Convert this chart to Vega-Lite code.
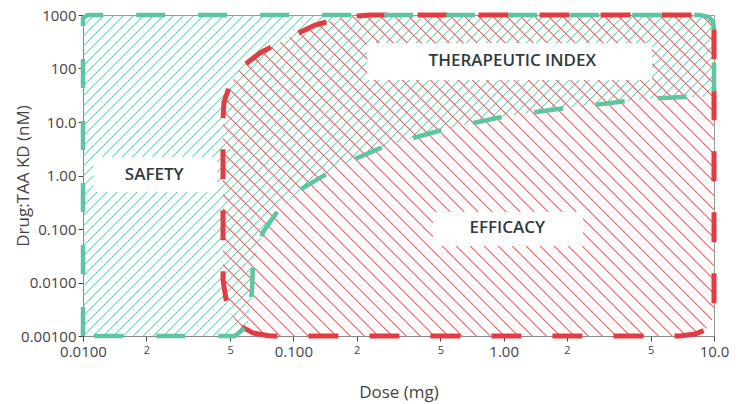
{"$schema":"https://vega.github.io/schema/vega-lite/v6.json","width":631,"height":321,"autosize":{"type":"none"},"padding":{"left":83,"top":15,"right":31,"bottom":68},"background":"white","config":{"font":"Open Sans","view":{"stroke":"#9a9a9a","strokeWidth":1}},
"datasets":{
"green_area":[{"x":0.01,"y":0.001,"y2":1000},{"x":0.0528,"y":0.001,"y2":1000},{"x":0.0609,"y":0.0016,"y2":1000},{"x":0.0636,"y":0.00724,"y2":1000},{"x":0.0643,"y":0.0231,"y2":1000},{"x":0.0718,"y":0.0879,"y2":1000},{"x":0.0864,"y":0.247,"y2":1000},{"x":0.111,"y":0.584,"y2":1000},{"x":0.146,"y":1.11,"y2":1000},{"x":0.201,"y":2.12,"y2":1000},{"x":0.267,"y":3.41,"y2":1000},{"x":0.371,"y":5.02,"y2":1000},{"x":0.509,"y":7.09,"y2":1000},{"x":0.715,"y":9.58,"y2":1000},{"x":0.982,"y":12.4,"y2":1000},{"x":1.38,"y":15.1,"y2":1000},{"x":1.89,"y":17.9,"y2":1000},{"x":2.66,"y":20.8,"y2":1000},{"x":3.69,"y":24.2,"y2":1000},{"x":5.13,"y":27.5,"y2":1000},{"x":7.12,"y":29.3,"y2":1000},{"x":8.58,"y":29.3,"y2":1000},{"x":9.46,"y":29.3,"y2":917},{"x":9.89,"y":29.3,"y2":740},{"x":10,"y":29.3,"y2":525}],
"red_area":[{"x":0.0463,"y":0.0111,"y2":10.9},{"x":0.0468,"y":0.0082,"y2":23.6},{"x":0.0479,"y":0.00471,"y2":30.6},{"x":0.05,"y":0.00269,"y2":49.2},{"x":0.0546,"y":0.00172,"y2":86},{"x":0.0558,"y":0.00154,"y2":93.8},{"x":0.0609,"y":0.00128,"y2":132},{"x":0.0643,"y":0.00114,"y2":155},{"x":0.0694,"y":0.00108,"y2":195},{"x":0.0774,"y":0.001,"y2":246},{"x":0.0943,"y":0.001,"y2":372},{"x":0.127,"y":0.001,"y2":650},{"x":0.176,"y":0.001,"y2":917},{"x":0.2315,"y":0.001,"y2":1000},{"x":6.89,"y":0.001,"y2":1000},{"x":8.12,"y":0.00109,"y2":1000},{"x":8.58,"y":0.00119,"y2":1000},{"x":9.06,"y":0.00129,"y2":938},{"x":9.57,"y":0.0016,"y2":879},{"x":10,"y":0.00247,"y2":571}],
"green_line":[{"i":0,"x":0.01,"y":0.001},{"i":1,"x":0.01,"y":870},{"i":2,"x":0.0105,"y":1000},{"i":3,"x":8.58,"y":1000},{"i":4,"x":9.46,"y":917},{"i":5,"x":9.89,"y":740},{"i":6,"x":10,"y":525},{"i":7,"x":10,"y":29.3},{"i":8,"x":7.12,"y":29.3},{"i":9,"x":5.13,"y":27.5},{"i":10,"x":3.69,"y":24.2},{"i":11,"x":2.66,"y":20.8},{"i":12,"x":1.89,"y":17.9},{"i":13,"x":1.38,"y":15.1},{"i":14,"x":0.982,"y":12.4},{"i":15,"x":0.715,"y":9.58},{"i":16,"x":0.509,"y":7.09},{"i":17,"x":0.371,"y":5.02},{"i":18,"x":0.267,"y":3.41},{"i":19,"x":0.201,"y":2.12},{"i":20,"x":0.146,"y":1.11},{"i":21,"x":0.111,"y":0.584},{"i":22,"x":0.0864,"y":0.247},{"i":23,"x":0.0718,"y":0.0879},{"i":24,"x":0.0643,"y":0.0231},{"i":25,"x":0.0636,"y":0.00724},{"i":26,"x":0.0609,"y":0.0016},{"i":27,"x":0.0528,"y":0.001},{"i":28,"x":0.01,"y":0.001}],
"red_line":[{"i":0,"x":0.0774,"y":0.001},{"i":1,"x":0.0694,"y":0.00108},{"i":2,"x":0.0643,"y":0.00114},{"i":3,"x":0.0558,"y":0.00154},{"i":4,"x":0.05,"y":0.00269},{"i":5,"x":0.0479,"y":0.00471},{"i":6,"x":0.0463,"y":0.0111},{"i":7,"x":0.0463,"y":10.9},{"i":8,"x":0.0468,"y":23.6},{"i":9,"x":0.0479,"y":30.6},{"i":10,"x":0.05,"y":49.2},{"i":11,"x":0.0546,"y":86},{"i":12,"x":0.0609,"y":132},{"i":13,"x":0.0694,"y":195},{"i":14,"x":0.0943,"y":372},{"i":15,"x":0.127,"y":650},{"i":16,"x":0.176,"y":917},{"i":17,"x":0.2315,"y":1000},{"i":18,"x":8.58,"y":1000},{"i":19,"x":9.57,"y":879},{"i":20,"x":10,"y":571},{"i":21,"x":10,"y":0.00247},{"i":22,"x":9.57,"y":0.0016},{"i":23,"x":9.06,"y":0.00129},{"i":24,"x":8.12,"y":0.00109},{"i":25,"x":6.89,"y":0.001},{"i":26,"x":0.0774,"y":0.001}],
"boxes":[{"x":0.0112,"x2":0.0434,"y":0.491,"y2":2.22},{"x":0.224,"x2":5.07,"y":61,"y2":300},{"x":0.461,"x2":2.38,"y":0.0481,"y2":0.208}],
"labels":[{"x":0.0218,"y":1.02,"label":"SAFETY"},{"x":1.1,"y":141,"label":"THERAPEUTIC INDEX"},{"x":1.04,"y":0.104,"label":"EFFICACY"}]
},
"encoding":{
"x":{"field":"x","type":"quantitative","scale":{"type":"log","domain":[0.01,10],"nice":false},"axis":{"title":"Dose (mg)","values":[0.01,0.02,0.05,0.1,0.2,0.5,1,2,5,10],"labelExpr":"datum.value == 0.01 ? '0.0100' : datum.value == 0.1 ? '0.100' : datum.value == 1 ? '1.00' : datum.value == 10 ? '10.0' : (datum.value == 0.02 || datum.value == 0.2 || datum.value == 2) ? '2' : '5'","labelFontSize":{"condition":{"test":"datum.value == 0.01 || datum.value == 0.1 || datum.value == 1 || datum.value == 10","value":15},"value":11},"labelColor":"#444","labelOverlap":false,"labelFlush":false,"labelBound":false,"labelPadding":3,"tickSize":5,"tickColor":"#444","domainColor":"#888","grid":false,"titleFontSize":17,"titleFontWeight":"normal","titleColor":"#444","titleBaseline":"alphabetic","titleY":61}},
"y":{"field":"y","type":"quantitative","scale":{"type":"log","domain":[0.001,1000],"nice":false},"axis":{"title":"Drug:TAA KD (nM)","values":[0.001,0.01,0.1,1,10,100,1000],"labelExpr":"datum.value == 1000 ? '1000' : datum.value == 100 ? '100' : datum.value == 10 ? '10.0' : datum.value == 1 ? '1.00' : datum.value == 0.1 ? '0.100' : datum.value == 0.01 ? '0.0100' : '0.00100'","labelFontSize":15,"labelColor":"#444","labelOverlap":false,"labelFlush":false,"labelBound":false,"labelPadding":2,"tickSize":5,"tickColor":"#444","domainColor":"#888","grid":false,"titleFontSize":17,"titleFontWeight":"normal","titleColor":"#444","titleBaseline":"alphabetic","titleX":-55}}
},
"layer":[
{"data":{"name":"green_area"},"mark":{"type":"area","opacity":1,"fill":{"gradient":"linear","x1":0,"y1":0,"x2":1.259,"y2":0.6405,"stops":[
{"offset":0.00,"color":"#5cc6a000"},{"offset":0.0012,"color":"#5cc6a0"},{"offset":0.0024,"color":"#5cc6a000"},
{"offset":0.01,"color":"#5cc6a000"},{"offset":0.0112,"color":"#5cc6a0"},{"offset":0.0124,"color":"#5cc6a000"},
{"offset":0.02,"color":"#5cc6a000"},{"offset":0.0212,"color":"#5cc6a0"},{"offset":0.0224,"color":"#5cc6a000"},
{"offset":0.03,"color":"#5cc6a000"},{"offset":0.0312,"color":"#5cc6a0"},{"offset":0.0324,"color":"#5cc6a000"},
{"offset":0.04,"color":"#5cc6a000"},{"offset":0.0412,"color":"#5cc6a0"},{"offset":0.0424,"color":"#5cc6a000"},
{"offset":0.05,"color":"#5cc6a000"},{"offset":0.0512,"color":"#5cc6a0"},{"offset":0.0524,"color":"#5cc6a000"},
{"offset":0.06,"color":"#5cc6a000"},{"offset":0.0612,"color":"#5cc6a0"},{"offset":0.0624,"color":"#5cc6a000"},
{"offset":0.07,"color":"#5cc6a000"},{"offset":0.0712,"color":"#5cc6a0"},{"offset":0.0724,"color":"#5cc6a000"},
{"offset":0.08,"color":"#5cc6a000"},{"offset":0.0812,"color":"#5cc6a0"},{"offset":0.0824,"color":"#5cc6a000"},
{"offset":0.09,"color":"#5cc6a000"},{"offset":0.0912,"color":"#5cc6a0"},{"offset":0.0924,"color":"#5cc6a000"},
{"offset":0.10,"color":"#5cc6a000"},{"offset":0.1012,"color":"#5cc6a0"},{"offset":0.1024,"color":"#5cc6a000"},
{"offset":0.11,"color":"#5cc6a000"},{"offset":0.1112,"color":"#5cc6a0"},{"offset":0.1124,"color":"#5cc6a000"},
{"offset":0.12,"color":"#5cc6a000"},{"offset":0.1212,"color":"#5cc6a0"},{"offset":0.1224,"color":"#5cc6a000"},
{"offset":0.13,"color":"#5cc6a000"},{"offset":0.1312,"color":"#5cc6a0"},{"offset":0.1324,"color":"#5cc6a000"},
{"offset":0.14,"color":"#5cc6a000"},{"offset":0.1412,"color":"#5cc6a0"},{"offset":0.1424,"color":"#5cc6a000"},
{"offset":0.15,"color":"#5cc6a000"},{"offset":0.1512,"color":"#5cc6a0"},{"offset":0.1524,"color":"#5cc6a000"},
{"offset":0.16,"color":"#5cc6a000"},{"offset":0.1612,"color":"#5cc6a0"},{"offset":0.1624,"color":"#5cc6a000"},
{"offset":0.17,"color":"#5cc6a000"},{"offset":0.1712,"color":"#5cc6a0"},{"offset":0.1724,"color":"#5cc6a000"},
{"offset":0.18,"color":"#5cc6a000"},{"offset":0.1812,"color":"#5cc6a0"},{"offset":0.1824,"color":"#5cc6a000"},
{"offset":0.19,"color":"#5cc6a000"},{"offset":0.1912,"color":"#5cc6a0"},{"offset":0.1924,"color":"#5cc6a000"},
{"offset":0.20,"color":"#5cc6a000"},{"offset":0.2012,"color":"#5cc6a0"},{"offset":0.2024,"color":"#5cc6a000"},
{"offset":0.21,"color":"#5cc6a000"},{"offset":0.2112,"color":"#5cc6a0"},{"offset":0.2124,"color":"#5cc6a000"},
{"offset":0.22,"color":"#5cc6a000"},{"offset":0.2212,"color":"#5cc6a0"},{"offset":0.2224,"color":"#5cc6a000"},
{"offset":0.23,"color":"#5cc6a000"},{"offset":0.2312,"color":"#5cc6a0"},{"offset":0.2324,"color":"#5cc6a000"},
{"offset":0.24,"color":"#5cc6a000"},{"offset":0.2412,"color":"#5cc6a0"},{"offset":0.2424,"color":"#5cc6a000"},
{"offset":0.25,"color":"#5cc6a000"},{"offset":0.2512,"color":"#5cc6a0"},{"offset":0.2524,"color":"#5cc6a000"},
{"offset":0.26,"color":"#5cc6a000"},{"offset":0.2612,"color":"#5cc6a0"},{"offset":0.2624,"color":"#5cc6a000"},
{"offset":0.27,"color":"#5cc6a000"},{"offset":0.2712,"color":"#5cc6a0"},{"offset":0.2724,"color":"#5cc6a000"},
{"offset":0.28,"color":"#5cc6a000"},{"offset":0.2812,"color":"#5cc6a0"},{"offset":0.2824,"color":"#5cc6a000"},
{"offset":0.29,"color":"#5cc6a000"},{"offset":0.2912,"color":"#5cc6a0"},{"offset":0.2924,"color":"#5cc6a000"},
{"offset":0.30,"color":"#5cc6a000"},{"offset":0.3012,"color":"#5cc6a0"},{"offset":0.3024,"color":"#5cc6a000"},
{"offset":0.31,"color":"#5cc6a000"},{"offset":0.3112,"color":"#5cc6a0"},{"offset":0.3124,"color":"#5cc6a000"},
{"offset":0.32,"color":"#5cc6a000"},{"offset":0.3212,"color":"#5cc6a0"},{"offset":0.3224,"color":"#5cc6a000"},
{"offset":0.33,"color":"#5cc6a000"},{"offset":0.3312,"color":"#5cc6a0"},{"offset":0.3324,"color":"#5cc6a000"},
{"offset":0.34,"color":"#5cc6a000"},{"offset":0.3412,"color":"#5cc6a0"},{"offset":0.3424,"color":"#5cc6a000"},
{"offset":0.35,"color":"#5cc6a000"},{"offset":0.3512,"color":"#5cc6a0"},{"offset":0.3524,"color":"#5cc6a000"},
{"offset":0.36,"color":"#5cc6a000"},{"offset":0.3612,"color":"#5cc6a0"},{"offset":0.3624,"color":"#5cc6a000"},
{"offset":0.37,"color":"#5cc6a000"},{"offset":0.3712,"color":"#5cc6a0"},{"offset":0.3724,"color":"#5cc6a000"},
{"offset":0.38,"color":"#5cc6a000"},{"offset":0.3812,"color":"#5cc6a0"},{"offset":0.3824,"color":"#5cc6a000"},
{"offset":0.39,"color":"#5cc6a000"},{"offset":0.3912,"color":"#5cc6a0"},{"offset":0.3924,"color":"#5cc6a000"},
{"offset":0.40,"color":"#5cc6a000"},{"offset":0.4012,"color":"#5cc6a0"},{"offset":0.4024,"color":"#5cc6a000"},
{"offset":0.41,"color":"#5cc6a000"},{"offset":0.4112,"color":"#5cc6a0"},{"offset":0.4124,"color":"#5cc6a000"},
{"offset":0.42,"color":"#5cc6a000"},{"offset":0.4212,"color":"#5cc6a0"},{"offset":0.4224,"color":"#5cc6a000"},
{"offset":0.43,"color":"#5cc6a000"},{"offset":0.4312,"color":"#5cc6a0"},{"offset":0.4324,"color":"#5cc6a000"},
{"offset":0.44,"color":"#5cc6a000"},{"offset":0.4412,"color":"#5cc6a0"},{"offset":0.4424,"color":"#5cc6a000"},
{"offset":0.45,"color":"#5cc6a000"},{"offset":0.4512,"color":"#5cc6a0"},{"offset":0.4524,"color":"#5cc6a000"},
{"offset":0.46,"color":"#5cc6a000"},{"offset":0.4612,"color":"#5cc6a0"},{"offset":0.4624,"color":"#5cc6a000"},
{"offset":0.47,"color":"#5cc6a000"},{"offset":0.4712,"color":"#5cc6a0"},{"offset":0.4724,"color":"#5cc6a000"},
{"offset":0.48,"color":"#5cc6a000"},{"offset":0.4812,"color":"#5cc6a0"},{"offset":0.4824,"color":"#5cc6a000"},
{"offset":0.49,"color":"#5cc6a000"},{"offset":0.4912,"color":"#5cc6a0"},{"offset":0.4924,"color":"#5cc6a000"},
{"offset":0.50,"color":"#5cc6a000"},{"offset":0.5012,"color":"#5cc6a0"},{"offset":0.5024,"color":"#5cc6a000"},
{"offset":0.51,"color":"#5cc6a000"},{"offset":0.5112,"color":"#5cc6a0"},{"offset":0.5124,"color":"#5cc6a000"},
{"offset":0.52,"color":"#5cc6a000"},{"offset":0.5212,"color":"#5cc6a0"},{"offset":0.5224,"color":"#5cc6a000"},
{"offset":0.53,"color":"#5cc6a000"},{"offset":0.5312,"color":"#5cc6a0"},{"offset":0.5324,"color":"#5cc6a000"},
{"offset":0.54,"color":"#5cc6a000"},{"offset":0.5412,"color":"#5cc6a0"},{"offset":0.5424,"color":"#5cc6a000"},
{"offset":0.55,"color":"#5cc6a000"},{"offset":0.5512,"color":"#5cc6a0"},{"offset":0.5524,"color":"#5cc6a000"},
{"offset":0.56,"color":"#5cc6a000"},{"offset":0.5612,"color":"#5cc6a0"},{"offset":0.5624,"color":"#5cc6a000"},
{"offset":0.57,"color":"#5cc6a000"},{"offset":0.5712,"color":"#5cc6a0"},{"offset":0.5724,"color":"#5cc6a000"},
{"offset":0.58,"color":"#5cc6a000"},{"offset":0.5812,"color":"#5cc6a0"},{"offset":0.5824,"color":"#5cc6a000"},
{"offset":0.59,"color":"#5cc6a000"},{"offset":0.5912,"color":"#5cc6a0"},{"offset":0.5924,"color":"#5cc6a000"},
{"offset":0.60,"color":"#5cc6a000"},{"offset":0.6012,"color":"#5cc6a0"},{"offset":0.6024,"color":"#5cc6a000"},
{"offset":0.61,"color":"#5cc6a000"},{"offset":0.6112,"color":"#5cc6a0"},{"offset":0.6124,"color":"#5cc6a000"},
{"offset":0.62,"color":"#5cc6a000"},{"offset":0.6212,"color":"#5cc6a0"},{"offset":0.6224,"color":"#5cc6a000"},
{"offset":0.63,"color":"#5cc6a000"},{"offset":0.6312,"color":"#5cc6a0"},{"offset":0.6324,"color":"#5cc6a000"},
{"offset":0.64,"color":"#5cc6a000"},{"offset":0.6412,"color":"#5cc6a0"},{"offset":0.6424,"color":"#5cc6a000"},
{"offset":0.65,"color":"#5cc6a000"},{"offset":0.6512,"color":"#5cc6a0"},{"offset":0.6524,"color":"#5cc6a000"},
{"offset":0.66,"color":"#5cc6a000"},{"offset":0.6612,"color":"#5cc6a0"},{"offset":0.6624,"color":"#5cc6a000"},
{"offset":0.67,"color":"#5cc6a000"},{"offset":0.6712,"color":"#5cc6a0"},{"offset":0.6724,"color":"#5cc6a000"},
{"offset":0.68,"color":"#5cc6a000"},{"offset":0.6812,"color":"#5cc6a0"},{"offset":0.6824,"color":"#5cc6a000"},
{"offset":0.69,"color":"#5cc6a000"},{"offset":0.6912,"color":"#5cc6a0"},{"offset":0.6924,"color":"#5cc6a000"},
{"offset":0.70,"color":"#5cc6a000"},{"offset":0.7012,"color":"#5cc6a0"},{"offset":0.7024,"color":"#5cc6a000"},
{"offset":0.71,"color":"#5cc6a000"},{"offset":0.7112,"color":"#5cc6a0"},{"offset":0.7124,"color":"#5cc6a000"},
{"offset":0.72,"color":"#5cc6a000"},{"offset":0.7212,"color":"#5cc6a0"},{"offset":0.7224,"color":"#5cc6a000"},
{"offset":0.73,"color":"#5cc6a000"},{"offset":0.7312,"color":"#5cc6a0"},{"offset":0.7324,"color":"#5cc6a000"},
{"offset":0.74,"color":"#5cc6a000"},{"offset":0.7412,"color":"#5cc6a0"},{"offset":0.7424,"color":"#5cc6a000"},
{"offset":0.75,"color":"#5cc6a000"},{"offset":0.7512,"color":"#5cc6a0"},{"offset":0.7524,"color":"#5cc6a000"},
{"offset":0.76,"color":"#5cc6a000"},{"offset":0.7612,"color":"#5cc6a0"},{"offset":0.7624,"color":"#5cc6a000"},
{"offset":0.77,"color":"#5cc6a000"},{"offset":0.7712,"color":"#5cc6a0"},{"offset":0.7724,"color":"#5cc6a000"},
{"offset":0.78,"color":"#5cc6a000"},{"offset":0.7812,"color":"#5cc6a0"},{"offset":0.7824,"color":"#5cc6a000"},
{"offset":0.79,"color":"#5cc6a000"},{"offset":0.7912,"color":"#5cc6a0"},{"offset":0.7924,"color":"#5cc6a000"},
{"offset":0.80,"color":"#5cc6a000"},{"offset":0.8012,"color":"#5cc6a0"},{"offset":0.8024,"color":"#5cc6a000"},
{"offset":0.81,"color":"#5cc6a000"},{"offset":0.8112,"color":"#5cc6a0"},{"offset":0.8124,"color":"#5cc6a000"},
{"offset":0.82,"color":"#5cc6a000"},{"offset":0.8212,"color":"#5cc6a0"},{"offset":0.8224,"color":"#5cc6a000"},
{"offset":0.83,"color":"#5cc6a000"},{"offset":0.8312,"color":"#5cc6a0"},{"offset":0.8324,"color":"#5cc6a000"},
{"offset":0.84,"color":"#5cc6a000"},{"offset":0.8412,"color":"#5cc6a0"},{"offset":0.8424,"color":"#5cc6a000"},
{"offset":0.85,"color":"#5cc6a000"},{"offset":0.8512,"color":"#5cc6a0"},{"offset":0.8524,"color":"#5cc6a000"},
{"offset":0.86,"color":"#5cc6a000"},{"offset":0.8612,"color":"#5cc6a0"},{"offset":0.8624,"color":"#5cc6a000"},
{"offset":0.87,"color":"#5cc6a000"},{"offset":0.8712,"color":"#5cc6a0"},{"offset":0.8724,"color":"#5cc6a000"},
{"offset":0.88,"color":"#5cc6a000"},{"offset":0.8812,"color":"#5cc6a0"},{"offset":0.8824,"color":"#5cc6a000"},
{"offset":0.89,"color":"#5cc6a000"},{"offset":0.8912,"color":"#5cc6a0"},{"offset":0.8924,"color":"#5cc6a000"},
{"offset":0.90,"color":"#5cc6a000"},{"offset":0.9012,"color":"#5cc6a0"},{"offset":0.9024,"color":"#5cc6a000"},
{"offset":0.91,"color":"#5cc6a000"},{"offset":0.9112,"color":"#5cc6a0"},{"offset":0.9124,"color":"#5cc6a000"},
{"offset":0.92,"color":"#5cc6a000"},{"offset":0.9212,"color":"#5cc6a0"},{"offset":0.9224,"color":"#5cc6a000"},
{"offset":0.93,"color":"#5cc6a000"},{"offset":0.9312,"color":"#5cc6a0"},{"offset":0.9324,"color":"#5cc6a000"},
{"offset":0.94,"color":"#5cc6a000"},{"offset":0.9412,"color":"#5cc6a0"},{"offset":0.9424,"color":"#5cc6a000"},
{"offset":0.95,"color":"#5cc6a000"},{"offset":0.9512,"color":"#5cc6a0"},{"offset":0.9524,"color":"#5cc6a000"}
]}},"encoding":{"y2":{"field":"y2"}}},
{"data":{"name":"red_area"},"mark":{"type":"area","opacity":1,"fill":{"gradient":"linear","x1":0,"y1":1,"x2":1.9975,"y2":-0.3059,"stops":[
{"offset":0.00,"color":"#e5454a00"},{"offset":0.0009,"color":"#e5454a"},{"offset":0.0018,"color":"#e5454a00"},
{"offset":0.01,"color":"#e5454a00"},{"offset":0.0109,"color":"#e5454a"},{"offset":0.0118,"color":"#e5454a00"},
{"offset":0.02,"color":"#e5454a00"},{"offset":0.0209,"color":"#e5454a"},{"offset":0.0218,"color":"#e5454a00"},
{"offset":0.03,"color":"#e5454a00"},{"offset":0.0309,"color":"#e5454a"},{"offset":0.0318,"color":"#e5454a00"},
{"offset":0.04,"color":"#e5454a00"},{"offset":0.0409,"color":"#e5454a"},{"offset":0.0418,"color":"#e5454a00"},
{"offset":0.05,"color":"#e5454a00"},{"offset":0.0509,"color":"#e5454a"},{"offset":0.0518,"color":"#e5454a00"},
{"offset":0.06,"color":"#e5454a00"},{"offset":0.0609,"color":"#e5454a"},{"offset":0.0618,"color":"#e5454a00"},
{"offset":0.07,"color":"#e5454a00"},{"offset":0.0709,"color":"#e5454a"},{"offset":0.0718,"color":"#e5454a00"},
{"offset":0.08,"color":"#e5454a00"},{"offset":0.0809,"color":"#e5454a"},{"offset":0.0818,"color":"#e5454a00"},
{"offset":0.09,"color":"#e5454a00"},{"offset":0.0909,"color":"#e5454a"},{"offset":0.0918,"color":"#e5454a00"},
{"offset":0.10,"color":"#e5454a00"},{"offset":0.1009,"color":"#e5454a"},{"offset":0.1018,"color":"#e5454a00"},
{"offset":0.11,"color":"#e5454a00"},{"offset":0.1109,"color":"#e5454a"},{"offset":0.1118,"color":"#e5454a00"},
{"offset":0.12,"color":"#e5454a00"},{"offset":0.1209,"color":"#e5454a"},{"offset":0.1218,"color":"#e5454a00"},
{"offset":0.13,"color":"#e5454a00"},{"offset":0.1309,"color":"#e5454a"},{"offset":0.1318,"color":"#e5454a00"},
{"offset":0.14,"color":"#e5454a00"},{"offset":0.1409,"color":"#e5454a"},{"offset":0.1418,"color":"#e5454a00"},
{"offset":0.15,"color":"#e5454a00"},{"offset":0.1509,"color":"#e5454a"},{"offset":0.1518,"color":"#e5454a00"},
{"offset":0.16,"color":"#e5454a00"},{"offset":0.1609,"color":"#e5454a"},{"offset":0.1618,"color":"#e5454a00"},
{"offset":0.17,"color":"#e5454a00"},{"offset":0.1709,"color":"#e5454a"},{"offset":0.1718,"color":"#e5454a00"},
{"offset":0.18,"color":"#e5454a00"},{"offset":0.1809,"color":"#e5454a"},{"offset":0.1818,"color":"#e5454a00"},
{"offset":0.19,"color":"#e5454a00"},{"offset":0.1909,"color":"#e5454a"},{"offset":0.1918,"color":"#e5454a00"},
{"offset":0.20,"color":"#e5454a00"},{"offset":0.2009,"color":"#e5454a"},{"offset":0.2018,"color":"#e5454a00"},
{"offset":0.21,"color":"#e5454a00"},{"offset":0.2109,"color":"#e5454a"},{"offset":0.2118,"color":"#e5454a00"},
{"offset":0.22,"color":"#e5454a00"},{"offset":0.2209,"color":"#e5454a"},{"offset":0.2218,"color":"#e5454a00"},
{"offset":0.23,"color":"#e5454a00"},{"offset":0.2309,"color":"#e5454a"},{"offset":0.2318,"color":"#e5454a00"},
{"offset":0.24,"color":"#e5454a00"},{"offset":0.2409,"color":"#e5454a"},{"offset":0.2418,"color":"#e5454a00"},
{"offset":0.25,"color":"#e5454a00"},{"offset":0.2509,"color":"#e5454a"},{"offset":0.2518,"color":"#e5454a00"},
{"offset":0.26,"color":"#e5454a00"},{"offset":0.2609,"color":"#e5454a"},{"offset":0.2618,"color":"#e5454a00"},
{"offset":0.27,"color":"#e5454a00"},{"offset":0.2709,"color":"#e5454a"},{"offset":0.2718,"color":"#e5454a00"},
{"offset":0.28,"color":"#e5454a00"},{"offset":0.2809,"color":"#e5454a"},{"offset":0.2818,"color":"#e5454a00"},
{"offset":0.29,"color":"#e5454a00"},{"offset":0.2909,"color":"#e5454a"},{"offset":0.2918,"color":"#e5454a00"},
{"offset":0.30,"color":"#e5454a00"},{"offset":0.3009,"color":"#e5454a"},{"offset":0.3018,"color":"#e5454a00"},
{"offset":0.31,"color":"#e5454a00"},{"offset":0.3109,"color":"#e5454a"},{"offset":0.3118,"color":"#e5454a00"},
{"offset":0.32,"color":"#e5454a00"},{"offset":0.3209,"color":"#e5454a"},{"offset":0.3218,"color":"#e5454a00"},
{"offset":0.33,"color":"#e5454a00"},{"offset":0.3309,"color":"#e5454a"},{"offset":0.3318,"color":"#e5454a00"},
{"offset":0.34,"color":"#e5454a00"},{"offset":0.3409,"color":"#e5454a"},{"offset":0.3418,"color":"#e5454a00"},
{"offset":0.35,"color":"#e5454a00"},{"offset":0.3509,"color":"#e5454a"},{"offset":0.3518,"color":"#e5454a00"},
{"offset":0.36,"color":"#e5454a00"},{"offset":0.3609,"color":"#e5454a"},{"offset":0.3618,"color":"#e5454a00"},
{"offset":0.37,"color":"#e5454a00"},{"offset":0.3709,"color":"#e5454a"},{"offset":0.3718,"color":"#e5454a00"},
{"offset":0.38,"color":"#e5454a00"},{"offset":0.3809,"color":"#e5454a"},{"offset":0.3818,"color":"#e5454a00"},
{"offset":0.39,"color":"#e5454a00"},{"offset":0.3909,"color":"#e5454a"},{"offset":0.3918,"color":"#e5454a00"},
{"offset":0.40,"color":"#e5454a00"},{"offset":0.4009,"color":"#e5454a"},{"offset":0.4018,"color":"#e5454a00"},
{"offset":0.41,"color":"#e5454a00"},{"offset":0.4109,"color":"#e5454a"},{"offset":0.4118,"color":"#e5454a00"},
{"offset":0.42,"color":"#e5454a00"},{"offset":0.4209,"color":"#e5454a"},{"offset":0.4218,"color":"#e5454a00"},
{"offset":0.43,"color":"#e5454a00"},{"offset":0.4309,"color":"#e5454a"},{"offset":0.4318,"color":"#e5454a00"},
{"offset":0.44,"color":"#e5454a00"},{"offset":0.4409,"color":"#e5454a"},{"offset":0.4418,"color":"#e5454a00"},
{"offset":0.45,"color":"#e5454a00"},{"offset":0.4509,"color":"#e5454a"},{"offset":0.4518,"color":"#e5454a00"},
{"offset":0.46,"color":"#e5454a00"},{"offset":0.4609,"color":"#e5454a"},{"offset":0.4618,"color":"#e5454a00"},
{"offset":0.47,"color":"#e5454a00"},{"offset":0.4709,"color":"#e5454a"},{"offset":0.4718,"color":"#e5454a00"},
{"offset":0.48,"color":"#e5454a00"},{"offset":0.4809,"color":"#e5454a"},{"offset":0.4818,"color":"#e5454a00"},
{"offset":0.49,"color":"#e5454a00"},{"offset":0.4909,"color":"#e5454a"},{"offset":0.4918,"color":"#e5454a00"},
{"offset":0.50,"color":"#e5454a00"},{"offset":0.5009,"color":"#e5454a"},{"offset":0.5018,"color":"#e5454a00"},
{"offset":0.51,"color":"#e5454a00"},{"offset":0.5109,"color":"#e5454a"},{"offset":0.5118,"color":"#e5454a00"},
{"offset":0.52,"color":"#e5454a00"},{"offset":0.5209,"color":"#e5454a"},{"offset":0.5218,"color":"#e5454a00"},
{"offset":0.53,"color":"#e5454a00"},{"offset":0.5309,"color":"#e5454a"},{"offset":0.5318,"color":"#e5454a00"},
{"offset":0.54,"color":"#e5454a00"},{"offset":0.5409,"color":"#e5454a"},{"offset":0.5418,"color":"#e5454a00"},
{"offset":0.55,"color":"#e5454a00"},{"offset":0.5509,"color":"#e5454a"},{"offset":0.5518,"color":"#e5454a00"},
{"offset":0.56,"color":"#e5454a00"},{"offset":0.5609,"color":"#e5454a"},{"offset":0.5618,"color":"#e5454a00"},
{"offset":0.57,"color":"#e5454a00"},{"offset":0.5709,"color":"#e5454a"},{"offset":0.5718,"color":"#e5454a00"},
{"offset":0.58,"color":"#e5454a00"},{"offset":0.5809,"color":"#e5454a"},{"offset":0.5818,"color":"#e5454a00"},
{"offset":0.59,"color":"#e5454a00"},{"offset":0.5909,"color":"#e5454a"},{"offset":0.5918,"color":"#e5454a00"}
]}},"encoding":{"y2":{"field":"y2"}}},
{"data":{"name":"red_line"},"mark":{"type":"line","stroke":"#e23b41","strokeWidth":5,"strokeDash":[30,31],"interpolate":"linear"},"encoding":{"order":{"field":"i","type":"quantitative"}}},
{"data":{"name":"green_line"},"mark":{"type":"line","stroke":"#5cc6a0","strokeWidth":4.5,"strokeDash":[29,33],"interpolate":"linear"},"encoding":{"order":{"field":"i","type":"quantitative"}}},
{"data":{"name":"boxes"},"mark":{"type":"rect","fill":"white","opacity":1},"encoding":{"x2":{"field":"x2"},"y2":{"field":"y2"}}},
{"data":{"name":"labels"},"mark":{"type":"text","fontSize":17,"fontWeight":600,"fill":"#2f3b3c","align":"center","baseline":"middle"},"encoding":{"text":{"field":"label"}}}
]}
